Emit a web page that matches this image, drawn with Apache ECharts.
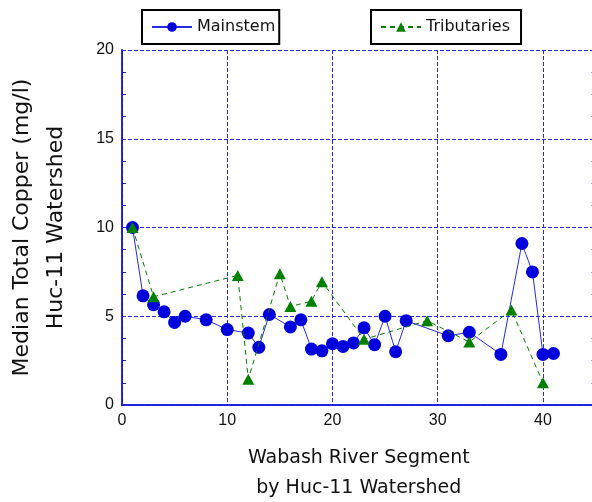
<!DOCTYPE html>
<html>
<head>
<meta charset="utf-8">
<script src="https://cdn.jsdelivr.net/npm/echarts@6/dist/echarts.min.js"></script>
<style>
html,body{margin:0;padding:0;background:#fff;}
#chart{width:592px;height:502px;}
</style>
</head>
<body>
<div id="chart"></div>
<script>
const mainstemX = [1,2,3,4,5,6,8,10,12,13,14,16,17,18,19,20,21,22,23,24,25,26,27,31,33,36,38,39,40,41];
const mainstemY = [10.0,6.15,5.65,5.25,4.65,5.0,4.8,4.25,4.05,3.25,5.1,4.4,4.8,3.15,3.05,3.45,3.3,3.5,4.35,3.4,5.0,3.0,4.75,3.9,4.1,2.85,9.1,7.5,2.85,2.9];
const tribX = [1,3,11,12,15,16,18,19,23,29,33,37,40];
const tribY = [10.0,6.1,7.3,1.45,7.4,5.55,5.85,6.95,3.7,4.75,3.55,5.35,1.25];
const xTicks = [0,10,20,30,40];
const yTicks = [0,5,10,15,20];

const axisBlue = '#1a1ad6';
const gridBlue = '#2a2ae0';
const font = 'DejaVu Sans';

const tickOnlyAxis = (pos) => ({
  type: 'value', min: 0, max: 20, interval: 5, position: pos, offset: -4,
  axisLine: { show: false }, axisTick: { show: false },
  minorTick: { show: true, splitNumber: 4, length: 4, lineStyle: { color: axisBlue, width: 1 } },
  axisLabel: { show: false }, splitLine: { show: false }
});

const chart = echarts.init(document.getElementById('chart'));
chart.setOption({
  animation: false,
  backgroundColor: '#fff',
  grid: { left: 122, top: 50, width: 473.6, height: 355, containLabel: false, outerBoundsMode: 'none' },
  legend: [
    { data: ['Mainstem'], left: 142, top: 10, orient: 'horizontal',
      borderColor: '#000', borderWidth: 2, padding: [9, 4, 9, 9],
      itemWidth: 40, itemHeight: 12, itemGap: 5,
      textStyle: { fontFamily: font, fontSize: 16, color: '#111' } },
    { data: ['Tributaries'], left: 371, top: 10, orient: 'horizontal',
      borderColor: '#000', borderWidth: 2, padding: [9, 11, 9, 9],
      itemWidth: 40, itemHeight: 12, itemGap: 8,
      textStyle: { fontFamily: font, fontSize: 16, color: '#111' } }
  ],
  xAxis: [{
    type: 'value', min: 0, max: 45, interval: 10,
    position: 'bottom',
    name: 'Wabash River Segment\nby Huc-11 Watershed',
    nameLocation: 'middle', nameGap: 38,
    nameTextStyle: { fontFamily: font, fontSize: 19, color: '#111', lineHeight: 30, align: 'center' },
    axisLine: { show: true, lineStyle: { color: axisBlue, width: 1.5 } },
    axisTick: { show: false },
    axisLabel: { fontFamily: 'Liberation Sans', fontSize: 16, color: '#111', margin: 8,
      formatter: v => xTicks.includes(v) ? String(v) : '' },
    splitLine: { show: true, lineStyle: { color: gridBlue, type: [4, 2], width: 1 } }
  }, {
    type: 'value', min: 0, max: 45, interval: 10, position: 'top',
    axisLine: { show: true, lineStyle: { color: axisBlue, width: 1.5 } },
    axisTick: { show: false }, axisLabel: { show: false }, splitLine: { show: false }
  }],
  yAxis: [{
    type: 'value', min: 0, max: 20, interval: 5, position: 'left',
    name: 'Median Total Copper (mg/l)\nHuc-11 Watershed',
    nameLocation: 'middle', nameGap: 49, nameRotate: 90,
    nameTextStyle: { fontFamily: font, fontSize: 22, color: '#111', lineHeight: 34, align: 'center' },
    axisLine: { show: true, lineStyle: { color: axisBlue, width: 1.5 } },
    axisTick: { show: false },
    axisLabel: { fontFamily: 'Liberation Sans', fontSize: 16, color: '#111', margin: 8,
      formatter: v => yTicks.includes(v) ? String(v) : '' },
    splitLine: { show: true, lineStyle: { color: gridBlue, type: [4, 2], width: 1 } }
  }, {
    type: 'value', min: 0, max: 20, interval: 5, position: 'right',
    axisLine: { show: true, lineStyle: { color: axisBlue, width: 1.5 } },
    axisTick: { show: false },
    axisLabel: { show: false }, splitLine: { show: false }
  },
  tickOnlyAxis('left'),
  tickOnlyAxis('right')
  ],
  series: [
    { name: 'Mainstem', type: 'line',
      data: mainstemX.map((x, i) => [x, mainstemY[i]]),
      symbol: 'circle', symbolSize: 13,
      itemStyle: { color: '#0000dd' },
      lineStyle: { color: '#2a2ae0', width: 1 }, z: 2 },
    { name: 'Tributaries', type: 'line',
      data: tribX.map((x, i) => [x, tribY[i]]),
      symbol: 'triangle', symbolSize: [12, 11],
      itemStyle: { color: '#008000' },
      lineStyle: { color: '#008000', width: 1, type: [5, 4] }, z: 3 }
  ]
});
</script>
</body>
</html>
